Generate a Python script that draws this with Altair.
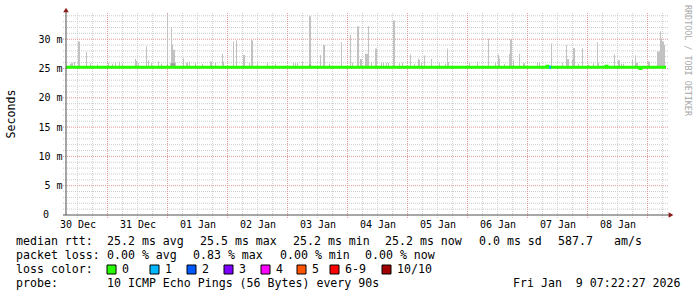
import altair as alt
import pandas as pd

MONO = "DejaVu Sans Mono"

# ---------------- data ----------------
START = "2025-12-30 07:22:27"
END = "2026-01-09 07:22:27"
STEP_SECONDS = 1440  # one rrd step per pixel column

# smoke (gray spread of ping times): step index, highest ping (ms)
smoke_steps = [4, 5, 6, 8, 12, 13, 20, 24, 31, 42, 46, 49, 53, 56, 69, 70, 72, 80, 82, 85, 92, 95,
               101, 104, 105, 106, 107, 108, 109, 117, 120, 121, 123, 129, 136, 144, 145, 149, 156, 157,
               167, 170, 177, 178, 183, 185, 186, 191,
               201, 209, 227, 229, 231, 236, 243, 244, 254, 257, 258, 263, 275, 284, 286, 291, 292, 294,
               295, 299, 300, 301, 302, 305, 309, 310, 315, 317, 320, 322, 327, 328, 333, 336, 344, 348,
               352, 353, 355, 358, 365, 373, 379, 381, 382,
               403, 411, 422, 429, 432, 433, 438, 443, 444, 445, 447, 453, 457, 458, 471, 473, 485, 496,
               500, 501, 502, 506, 507, 508, 512, 516, 522, 527, 531, 532, 548, 552, 553, 555, 557, 566,
               569, 570, 571, 582, 583, 591, 592, 593, 594, 595, 596, 597, 598]
smoke_tops = [25.8, 25.9, 26.0, 26.1, 29.6, 29.6, 27.8, 25.9, 25.7, 26.0, 25.8, 26.0, 26.2, 25.8, 26.6, 26.3, 25.9, 28.8, 26.4, 25.9, 26.2, 25.8,
              34.3, 26.0, 32.0, 29.1, 28.2, 28.2, 26.0, 26.7, 26.0, 26.0, 26.2, 25.9, 25.8, 26.2, 26.2, 26.0, 27.5, 26.2,
              29.6, 29.8, 27.3, 27.3, 26.0, 29.8, 29.8, 25.9,
              26.0, 25.8, 26.0, 25.9, 25.9, 26.2, 33.9, 33.9, 27.3, 29.0, 29.0, 25.8, 29.5, 30.7, 26.0, 32.2, 32.2, 26.6,
              26.6, 27.5, 27.5, 27.5, 32.2, 26.1, 28.4, 28.4, 26.0, 26.0, 26.0, 26.0, 33.2, 33.2, 25.9, 26.0, 27.4, 25.8,
              26.7, 26.5, 26.0, 27.2, 26.6, 26.0, 25.8, 28.4, 26.1,
              26.0, 26.2, 30.1, 26.0, 27.4, 26.7, 25.8, 27.5, 30.0, 30.0, 26.4, 27.5, 25.9, 25.9, 26.0, 26.0, 29.25, 26.0,
              29.0, 26.6, 26.6, 26.5, 28.5, 28.5, 25.8, 28.5, 25.7, 25.9, 29.5, 26.0, 27.4, 26.4, 26.4, 25.8, 25.8, 26.5,
              27.2, 26.0, 26.0, 26.2, 26.2, 27.9, 27.9, 27.9, 31.35, 30.1, 29.6, 29.6, 29.0]
smoke_floor = 25.1

# darker inner smoke
inner_steps = [101, 105, 106, 107, 108, 243, 244]
inner_tops = [25.7, 25.9, 25.9, 25.9, 25.9, 25.7, 25.7]

# median rtt (ms): breakpoints of the step line
median_steps = [0, 481, 482, 540, 541, 574, 575, 600]
median_values = [25.2, 25.4, 25.2, 25.4, 25.2, 25.0, 25.2, 25.2]

# steps where packets were lost (loss count)
loss_steps = [483, 484]
loss_counts = [1, 1]

y_major = [0, 5, 10, 15, 20, 25, 30]
y_minor = [v for v in range(1, 35) if v % 5]
day_labels = ["2025-12-30", "2025-12-31", "2026-01-01", "2026-01-02", "2026-01-03",
              "2026-01-04", "2026-01-05", "2026-01-06", "2026-01-07", "2026-01-08"]

loss_labels = ["0", "1", "2", "3", "4", "5", "6-9", "10/10"]
loss_colors = ["#26ff00", "#00b8ff", "#0059ff", "#7e00ff", "#ff00ff", "#ff5500", "#ff0000", "#a10000"]

stats_rtt = ["25.2 ms avg", "25.5 ms max", "25.2 ms min", "25.2 ms now", "0.0 ms sd", "587.7", "am/s"]
stats_loss = ["0.00 % avg", "0.83 % max", "0.00 % min", "0.00 % now"]
probe_text = "10 ICMP Echo Pings (56 Bytes) every 90s"
stamp_text = "Fri Jan \u00a09 07:22:27 2026"

# ---------------- helpers ----------------
t0 = pd.Timestamp(START, tz="UTC")
t1 = pd.Timestamp(END, tz="UTC")


def ms(ts):
    return int(ts.timestamp() * 1000)


def step_ms(i):
    return ms(t0) + int(i) * STEP_SECONDS * 1000


W, H = 600, 201
PAD_L, PAD_T = 66, 14

xscale = alt.Scale(type="utc", domain=[ms(t0), ms(t1)], nice=False)
yscale = alt.Scale(domain=[0, 34.3], nice=False, zero=True)

smoke = pd.DataFrame({
    "t": [step_ms(s) for s in smoke_steps],
    "t2": [step_ms(s + 1) for s in smoke_steps],
    "top": smoke_tops,
    "floor": smoke_floor,
})
inner = pd.DataFrame({
    "t": [step_ms(s) for s in inner_steps],
    "t2": [step_ms(s + 1) for s in inner_steps],
    "top": inner_tops,
    "floor": smoke_floor,
})
median = pd.DataFrame({"t": [step_ms(s) for s in median_steps], "v": median_values})
loss = pd.DataFrame({
    "t": [step_ms(s) for s in loss_steps],
    "t2": [step_ms(s + 1) for s in loss_steps],
    "v": [median_values[0]] * len(loss_steps),
    "c": [loss_colors[c] for c in loss_counts],
})

noon = [ms(pd.Timestamp(d + " 12:00", tz="UTC")) for d in day_labels]
midnights = [ms(d) for d in pd.date_range(t0.ceil("D"), t1, freq="D")]
six_hours = [ms(d) for d in pd.date_range(t0.ceil("6h"), t1, freq="6h") if d.hour != 0]

x_axis = alt.Axis(values=noon, labelExpr="utcFormat(datum.value, '%d %b')", ticks=False, domain=False,
                  grid=False, labelFont=MONO, labelFontSize=10, labelColor="#000000", labelPadding=4,
                  labelOverlap=False, labelFlush=False, title=None)
y_axis = alt.Axis(values=[v for v in y_major if v > 0],
                  labelExpr="datum.value + ' m'",
                  ticks=False, domain=False, grid=False, labelFont=MONO, labelFontSize=10,
                  labelColor="#000000", labelPadding=4, title=None)


def X(field):
    return alt.X(field, scale=xscale, axis=x_axis)


def Y(field):
    return alt.Y(field, scale=yscale, axis=y_axis)


GRID_MINOR = "#cdcdcd"
GRID_MAJOR = "#e39494"
ARROW = "#8b1a1a"
AXIS_COL = "#505050"

layers = []

# grid
layers.append(alt.Chart(pd.DataFrame({"v": y_minor})).mark_rule(
    color=GRID_MINOR, strokeDash=[1, 1], strokeWidth=1).encode(
    y=Y("v:Q"), x=alt.value(-3), x2=alt.value(W + 2)))
layers.append(alt.Chart(pd.DataFrame({"t": six_hours})).mark_rule(
    color=GRID_MINOR, strokeDash=[1, 1], strokeWidth=1).encode(
    x=X("t:T"), y=alt.value(-1), y2=alt.value(H + 3)))
layers.append(alt.Chart(pd.DataFrame({"v": y_major[1:]})).mark_rule(
    color=GRID_MAJOR, strokeDash=[1, 1], strokeWidth=1).encode(
    y=Y("v:Q"), x=alt.value(-3), x2=alt.value(W + 2)))
layers.append(alt.Chart(pd.DataFrame({"t": midnights})).mark_rule(
    color=GRID_MAJOR, strokeDash=[1, 1], strokeWidth=1).encode(
    x=X("t:T"), y=alt.value(-1), y2=alt.value(H + 3)))

# zero label of the value axis (rrdtool prints it without unit)
layers.append(alt.Chart(pd.DataFrame({"v": [0]})).mark_text(
    text="0", font=MONO, fontSize=10, color="#000000", align="left", baseline="middle").encode(
    y=Y("v:Q"), x=alt.value(43 - PAD_L)))

# smoke
layers.append(alt.Chart(smoke).mark_rect(color="#c2c2c2").encode(
    x=X("t:T"), x2="t2:T", y=Y("top:Q"), y2="floor:Q"))
layers.append(alt.Chart(inner).mark_rect(color="#9a9a9a").encode(
    x=X("t:T"), x2="t2:T", y=Y("top:Q"), y2="floor:Q"))

# median line
layers.append(alt.Chart(median).mark_line(color=loss_colors[0], strokeWidth=3, interpolate="step-after",
                                          strokeCap="butt").encode(x=X("t:T"), y=Y("v:Q")))
layers.append(alt.Chart(loss).mark_rule(strokeWidth=3, strokeCap="butt").encode(
    x=X("t:T"), x2="t2:T", y=Y("v:Q"), color=alt.Color("c:N", scale=None, legend=None)))

one = alt.Data(values=[{"k": 0}])

# axis lines and arrows
layers.append(alt.Chart(one).mark_rule(color=AXIS_COL, strokeWidth=1).encode(
    x=alt.value(0), y=alt.value(H), y2=alt.value(-3)))
layers.append(alt.Chart(one).mark_rule(color=AXIS_COL, strokeWidth=1).encode(
    y=alt.value(H), x=alt.value(-3), x2=alt.value(W + 3)))
layers.append(alt.Chart(one).mark_point(shape="triangle-up", filled=True, size=30, color=ARROW, opacity=1).encode(
    x=alt.value(0), y=alt.value(-4)))
layers.append(alt.Chart(one).mark_point(shape="triangle-right", filled=True, size=30, color=ARROW, opacity=1).encode(
    x=alt.value(W + 5), y=alt.value(H)))


def text(s, x, y, size=11.6, color="#000000", **kw):
    return alt.Chart(one).mark_text(text=s, font=MONO, fontSize=size, color=color,
                                    align=kw.pop("align", "left"), baseline=kw.pop("baseline", "alphabetic"),
                                    **kw).encode(x=alt.value(x - PAD_L), y=alt.value(y - PAD_T))


# titles
layers.append(text("Seconds", 15, 114, align="center", angle=270))
layers.append(text("RRDTOOL / TOBI OETIKER", 685, 5, size=8.4, color="#a8a8a8", angle=90))

# footer
row_y = [245, 259, 273, 287]
rtt_x = [107, 200, 293, 385, 479, 558, 614]
loss_x = [107, 193, 280, 365]
layers.append(text("median rtt:", 16, row_y[0]))
for s, x in zip(stats_rtt, rtt_x):
    layers.append(text(s, x, row_y[0]))
layers.append(text("packet loss:", 16, row_y[1]))
for s, x in zip(stats_loss, loss_x):
    layers.append(text(s, x, row_y[1]))
layers.append(text("loss color:", 16, row_y[2]))
box_x = [107, 150, 187, 224, 261, 297, 330, 382]
for lab, col, bx in zip(loss_labels, loss_colors, box_x):
    layers.append(alt.Chart(one).mark_rect(fill=col, stroke="#000000", strokeWidth=1).encode(
        x=alt.value(bx - PAD_L), x2=alt.value(bx + 9 - PAD_L),
        y=alt.value(row_y[2] - 8 - PAD_T), y2=alt.value(row_y[2] + 1 - PAD_T)))
    layers.append(text(lab, bx + 15, row_y[2]))
layers.append(text("probe:", 16, row_y[3]))
layers.append(text(probe_text, 107, row_y[3]))
layers.append(text(stamp_text, 513, row_y[3]))

chart = alt.layer(*layers).properties(
    width=W, height=H,
    padding={"left": PAD_L, "top": PAD_T, "right": 697 - PAD_L - W, "bottom": 297 - PAD_T - H},
    autosize=alt.AutoSizeParams(type="none"),
    background="#ffffff",
).configure_view(stroke=None)

chart.save("out.html", embed_options={"renderer": "svg", "actions": False})
